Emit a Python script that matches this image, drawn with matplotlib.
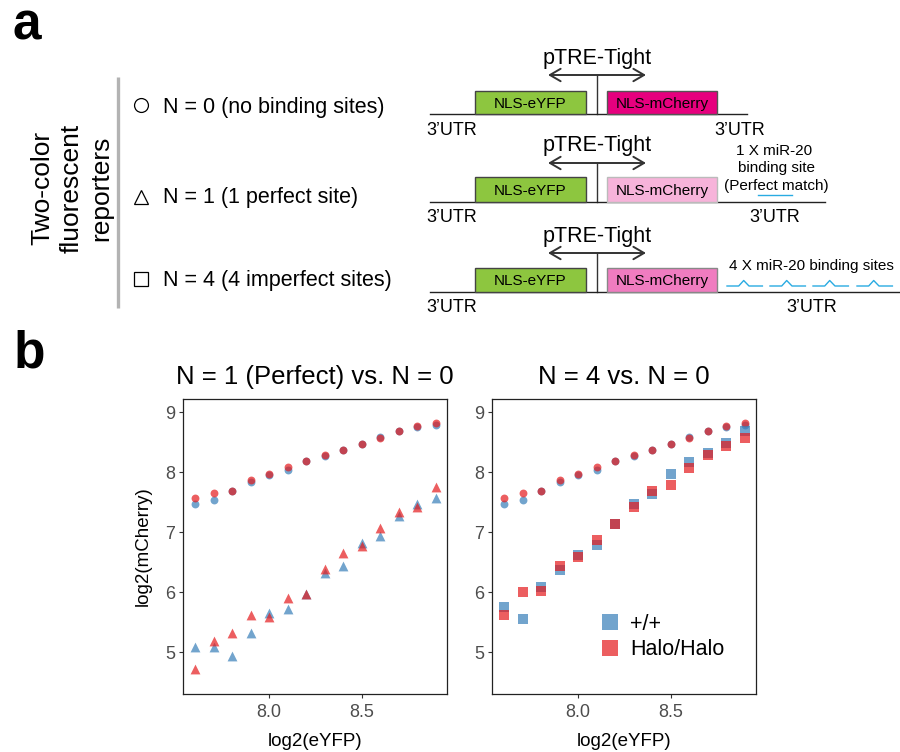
import matplotlib
matplotlib.use("Agg")
import matplotlib.pyplot as plt
from matplotlib.patches import Rectangle
from matplotlib.lines import Line2D

plt.rcParams['font.family'] = ['Liberation Sans', 'DejaVu Sans']

# ---------------- data ----------------
x_eyfp = [7.6, 7.7, 7.8, 7.9, 8.0, 8.1, 8.2, 8.3, 8.4, 8.5, 8.6, 8.7, 8.8, 8.9]
n0_wt = [7.47, 7.54, 7.69, 7.83, 7.95, 8.04, 8.18, 8.27, 8.36, 8.47, 8.59, 8.68, 8.75, 8.79]
n0_halo = [7.56, 7.65, 7.69, 7.86, 7.96, 8.09, 8.18, 8.29, 8.36, 8.47, 8.56, 8.68, 8.77, 8.81]
n1_wt = [5.08, 5.09, 4.94, 5.31, 5.65, 5.71, 5.96, 6.32, 6.43, 6.82, 6.93, 7.26, 7.46, 7.56]
n1_halo = [4.71, 5.18, 5.32, 5.62, 5.58, 5.90, 5.96, 6.39, 6.65, 6.77, 7.07, 7.33, 7.41, 7.75]
n4_wt = [5.75, 5.55, 6.09, 6.36, 6.62, 6.78, 7.13, 7.46, 7.64, 7.97, 8.16, 8.31, 8.48, 8.69]
n4_halo = [5.61, 6.00, 6.01, 6.43, 6.58, 6.87, 7.13, 7.42, 7.68, 7.78, 8.06, 8.29, 8.44, 8.57]
genotypes = ['+/+', 'Halo/Halo']
titles = ['N = 1 (Perfect) vs. N = 0', 'N = 4 vs. N = 0']
x_ticks = [8.0, 8.5]
x_ticklabels = ['8.0', '8.5']
y_ticks = [5, 6, 7, 8, 9]
reporters = ['N = 0 (no binding sites)', 'N = 1 (1 perfect site)', 'N = 4 (4 imperfect sites)']

BLUE = '#377EB8'
RED = '#E41A1C'
ALPHA = 0.7

W, H = 900, 752
fig = plt.figure(figsize=(W / 100, H / 100), dpi=100)

# ---------------- panel a (diagram, pixel coordinates) ----------------
ax0 = fig.add_axes([0, 0, 1, 1])
ax0.set_xlim(0, W)
ax0.set_ylim(H, 0)
ax0.axis('off')

ax0.text(12, 40, 'a', fontsize=37, fontweight='bold', ha='left', va='baseline')
ax0.text(14, 367, 'b', fontsize=37, fontweight='bold', ha='left', va='baseline')

# grey bar and rotated label
ax0.plot([118, 118], [77, 308], color='#b3b3b3', lw=2.4, solid_capstyle='butt')
ax0.text(72, 188, 'Two-color\nfluorescent\nreporters', rotation=90, fontsize=19,
         ha='center', va='center', multialignment='center', linespacing=1.3)

# reporter legend entries
sym_y = [105, 197, 279]
base_y = [113, 203, 286]
for mk, sy, by, lab in zip(['o', '^', 's'], sym_y, base_y, reporters):
    ax0.plot([141], [sy], marker=mk, ms=10, mfc='none', mec='black', mew=0.9, ls='none')
    ax0.text(163, by, lab, fontsize=15.5, ha='left', va='baseline')

# constructs
rows = [
    dict(tb=64, ay=75, top=91, base=114, end=747, ub=135, ux=740, col='#e6007e', ec='#555555'),
    dict(tb=151, ay=163, top=177, base=202, end=825, ub=222, ux=775, col='#f7b3da', ec='#bbbbbb'),
    dict(tb=242, ay=253, top=268, base=292, end=900, ub=312, ux=812, col='#f07cc0', ec='#888888'),
]
for r in rows:
    ax0.text(597, r['tb'], 'pTRE-Tight', fontsize=15.5, ha='center', va='baseline')
    ax0.annotate('', xy=(548, r['ay']), xytext=(646, r['ay']),
                 arrowprops=dict(arrowstyle='<->,head_length=0.55,head_width=0.32',
                                 color='#333333', lw=1.4, mutation_scale=14,
                                 shrinkA=0, shrinkB=0))
    ax0.plot([597, 597], [r['ay'], r['base']], color='#333333', lw=1.0)
    ax0.plot([430, r['end']], [r['base'], r['base']], color='#222222', lw=1.0)
    h = r['base'] - r['top']
    ax0.add_patch(Rectangle((475, r['top']), 111, h, facecolor='#8dc63f',
                            edgecolor='#444444', lw=1.0, zorder=3))
    ax0.add_patch(Rectangle((607, r['top']), 110, h, facecolor=r['col'],
                            edgecolor=r['ec'], lw=1.0, zorder=3))
    cy = r['top'] + h / 2
    ax0.text(530.5, cy + 5.2, 'NLS-eYFP', fontsize=11, ha='center', va='baseline', zorder=4)
    ax0.text(662, cy + 5.2, 'NLS-mCherry', fontsize=11, ha='center', va='baseline', zorder=4)
    ax0.text(452, r['ub'], "3\u2019UTR", fontsize=13, ha='center', va='baseline')
    ax0.text(r['ux'], r['ub'], "3\u2019UTR", fontsize=13, ha='center', va='baseline')

# binding site annotations
ax0.text(774, 155, '1 X miR-20', fontsize=11, ha='center', va='baseline')
ax0.text(776, 172, 'binding site', fontsize=11, ha='center', va='baseline')
ax0.text(776, 190, '(Perfect match)', fontsize=11, ha='center', va='baseline')
ax0.plot([758, 792], [195, 195], color='#29abe2', lw=1.0)
ax0.text(811, 270, '4 X miR-20 binding sites', fontsize=11, ha='center', va='baseline')
for x0 in [727, 770, 813, 857]:
    ax0.plot([x0, x0 + 11.7, x0 + 16.7, x0 + 22, x0 + 35.4],
             [286, 286, 280.5, 286, 286], color='#29abe2', lw=1.0)

# ---------------- panel b (scatter plots) ----------------
def make_ax(left_px):
    ax = fig.add_axes([left_px / W, (H - 694) / H, 264 / W, 295 / H])
    ax.set_xlim(7.535, 8.962)
    ax.set_ylim(4.3, 9.217)
    ax.set_xticks(x_ticks)
    ax.set_xticklabels(x_ticklabels)
    ax.set_yticks(y_ticks)
    ax.tick_params(axis='both', length=3, width=0.8, color='#333333',
                   labelcolor='#4d4d4d', labelsize=13)
    ax.tick_params(axis='x', pad=4)
    ax.tick_params(axis='y', pad=2.5)
    for s in ax.spines.values():
        s.set_linewidth(0.9)
        s.set_color('#222222')
    ax.set_xlabel('log2(eYFP)', fontsize=13.5)
    ax.xaxis.set_label_coords(0.5, -52 / 295)
    ax.xaxis.label.set_va('baseline')
    return ax

axL = make_ax(183)
axR = make_ax(492)

for ax, title, wt2, halo2, mk2, s2 in [
        (axL, titles[0], n1_wt, n1_halo, '^', 50),
        (axR, titles[1], n4_wt, n4_halo, 's', 44)]:
    ax.scatter(x_eyfp, n0_wt, s=32, marker='o', color=BLUE, alpha=ALPHA, lw=0)
    ax.scatter(x_eyfp, n0_halo, s=32, marker='o', color=RED, alpha=ALPHA, lw=0)
    ax.scatter(x_eyfp, wt2, s=s2, marker=mk2, color=BLUE, alpha=ALPHA, lw=0)
    ax.scatter(x_eyfp, halo2, s=s2, marker=mk2, color=RED, alpha=ALPHA, lw=0)
    ax.set_title(title, fontsize=18.5, pad=11)

axL.set_ylabel('log2(mCherry)', fontsize=13.5)
axL.yaxis.set_label_coords(-40 / 263, 0.5)
axL.yaxis.label.set_va('center')

handles = [Line2D([], [], marker='s', ls='none', ms=11, mew=0, color=BLUE, alpha=ALPHA),
           Line2D([], [], marker='s', ls='none', ms=11, mew=0, color=RED, alpha=ALPHA)]
axR.legend(handles, genotypes, loc='upper left', bbox_to_anchor=(601 / W, (H - 614) / H),
           bbox_transform=fig.transFigure, frameon=False, fontsize=15.5,
           handlelength=0.8, handletextpad=0.55, labelspacing=0.2,
           borderpad=0, borderaxespad=0)

fig.savefig('out.png', dpi=100)
